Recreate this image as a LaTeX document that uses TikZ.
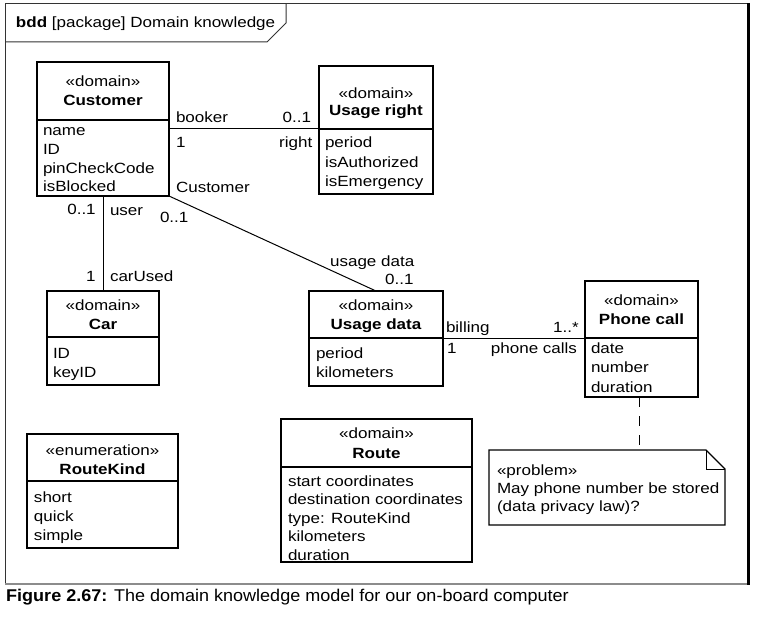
\documentclass[tikz,border=0pt]{standalone}
\usepackage{fontspec}
\setmainfont{Liberation Sans}
\newfontfamily\mydiafam{Liberation Sans}[FakeStretch=1.15]
\newfontfamily\mycapfam{Liberation Sans}[FakeStretch=1.06]
\newcommand\mydiafont{\mydiafam\fontsize{14.8pt}{19pt}\selectfont}
\newcommand\mycapfont{\mycapfam\fontsize{17pt}{20pt}\selectfont}
\newcommand\fs{\rule{0pt}{12pt}}
\begin{document}
\begin{tikzpicture}[x=1pt,y=-1pt,
  box/.style={draw, line width=1.1pt, inner sep=0pt, outer sep=0pt, anchor=north west},
  txt/.style={inner sep=0pt, outer sep=0pt, font=\mydiafont},
  hd/.style={txt, align=center, anchor=north},
  att/.style={txt, align=left, anchor=north west},
  lbw/.style={txt, anchor=base west},
  lbe/.style={txt, anchor=base east},
  conn/.style={line width=1pt},
  dconn/.style={line width=1.1pt, dash pattern=on 10pt off 9pt}]
\useasboundingbox (0,0) rectangle (763,620);
\fill[white] (0,0) rectangle (763,620);

% frame
\draw[line width=1pt, black!80] (5,583) -- (5,4) -- (749,4);
\draw[line width=2.5pt] (748.5,3) -- (748.5,584.5);
\draw[line width=2pt, black!45] (5,583.5) -- (747,583.5);
\draw[line width=1pt, black!80] (5,42) -- (267,42) -- (286,23) -- (286,4);
\node[lbw] (title) at (16,27.3) {\textbf{bdd} [package] Domain knowledge};

% Customer
\node[box, minimum width=132pt, minimum height=58pt] (cust) at (37,62) {};
\node[box, minimum width=132pt, minimum height=76pt] (custb) at (cust.south west) {};
\node[hd] (custh) at (103,74.7) {\fs«domain»\\\textbf{Customer}};
\node[att, font=\mydiafont\setlength\baselineskip{18.6pt}] (custa) at (43,124) {\fs name\\ID\\pinCheckCode\\isBlocked};

% Usage right
\node[box, minimum width=114pt, minimum height=63pt] (ur) at (319,66) {};
\node[box, minimum width=114pt, minimum height=65pt] (urb) at (ur.south west) {};
\node[hd, font=\mydiafont\setlength\baselineskip{17pt}] (urh) at (376,86.3) {\fs«domain»\\\textbf{Usage right}};
\node[att, font=\mydiafont\setlength\baselineskip{19.5pt}] (ura) at (325,135.7) {\fs period\\isAuthorized\\isEmergency};

% Car
\node[box, minimum width=112pt, minimum height=46pt] (car) at (47,291) {};
\node[box, minimum width=112pt, minimum height=48pt] (carb) at (car.south west) {};
\node[hd] (carh) at (103,298.7) {\fs«domain»\\\textbf{Car}};
\node[att] (cara) at (53,346) {\fs ID\\keyID};

% Usage data
\node[box, minimum width=134pt, minimum height=47pt] (ud) at (309,291) {};
\node[box, minimum width=134pt, minimum height=48pt] (udb) at (ud.south west) {};
\node[hd] (udh) at (376,299) {\fs«domain»\\\textbf{Usage data}};
\node[att] (uda) at (316,346) {\fs period\\kilometers};

% Phone call
\node[box, minimum width=113pt, minimum height=57pt] (pc) at (585,281) {};
\node[box, minimum width=113pt, minimum height=59pt] (pcb) at (pc.south west) {};
\node[hd] (pch) at (641.5,294) {\fs«domain»\\\textbf{Phone call}};
\node[att, font=\mydiafont\setlength\baselineskip{19.7pt}] (pca) at (591,341) {\fs date\\number\\duration};

% RouteKind
\node[box, minimum width=151pt, minimum height=47pt] (rk) at (27,434) {};
\node[box, minimum width=151pt, minimum height=67pt] (rkb) at (rk.south west) {};
\node[hd, font=\mydiafont\setlength\baselineskip{18.3pt}] (rkh) at (102.5,443.7) {\fs«enumeration»\\\textbf{RouteKind}};
\node[att] (rka) at (34,490) {\fs short\\quick\\simple};

% Route
\node[box, minimum width=191pt, minimum height=48pt] (rt) at (281,419) {};
\node[box, minimum width=191pt, minimum height=95pt] (rtb) at (rt.south west) {};
\node[hd, font=\mydiafont\setlength\baselineskip{20pt}] (rth) at (376.5,426.3) {\fs«domain»\\\textbf{Route}};
\node[att, font=\mydiafont\setlength\baselineskip{18.5pt}] (rta) at (288,474) {\fs start coordinates\\destination coordinates\\type: RouteKind\\kilometers\\duration};

% Note
\node[inner sep=0pt, outer sep=0pt, minimum width=236pt, minimum height=75pt, anchor=north west] (note) at (489,450) {};
\draw[line width=1.1pt, line join=miter] (note.north west) -- ([xshift=-19pt]note.north east) -- ([yshift=-19pt]note.north east) -- (note.south east) -- (note.south west) -- cycle;
\draw[line width=1pt] ([xshift=-19pt]note.north east) -- ([xshift=-19pt,yshift=-19pt]note.north east) -- ([yshift=-19pt]note.north east);
\node[att, font=\mydiafont\setlength\baselineskip{18pt}] (notet) at (497,463) {\fs«problem»\\May phone number be stored\\(data privacy law)?};

% connectors
\draw[conn] (ur.south west) -- (ur.south west -| custb.east);
\draw[conn] (custb.south) -- (car.north);
\draw[conn] (custb.south east) -- (ud.north);
\draw[conn] (ud.south east) -- (pc.south west);
\draw[dconn] ([xshift=-2pt]pcb.south) -- ([xshift=-2pt]pcb.south |- note.north);

% labels
\node[lbw] (l1) at (176,123) {booker};
\node[lbe] (l2) at (311,123) {0..1};
\node[lbw] (l3) at (176,148) {1};
\node[lbe] (l4) at (312.3,148) {right};
\node[lbw] (l5) at (176,193) {Customer};
\node[lbe] (l6) at (95.7,215) {0..1};
\node[lbw] (l7) at (110,215.5) {user};
\node[lbw] (l8) at (160,222.7) {0..1};
\node[lbe] (l9) at (95.7,281.7) {1};
\node[lbw] (l10) at (110,281.7) {carUsed};
\node[lbe] (l11) at (414.3,267) {usage data};
\node[lbe] (l12) at (413.5,285) {0..1};
\node[lbw] (l13) at (446,333) {billing};
\node[lbe] (l14) at (578.7,333) {1..*};
\node[lbw] (l15) at (447,353) {1};
\node[lbe] (l16) at (577,353) {phone calls};

% caption
\node[inner sep=0pt, anchor=base west, font=\mycapfont] (cap) at (6,601) {\textbf{Figure 2.67:} The domain knowledge model for our on-board computer};
\end{tikzpicture}
\end{document}
